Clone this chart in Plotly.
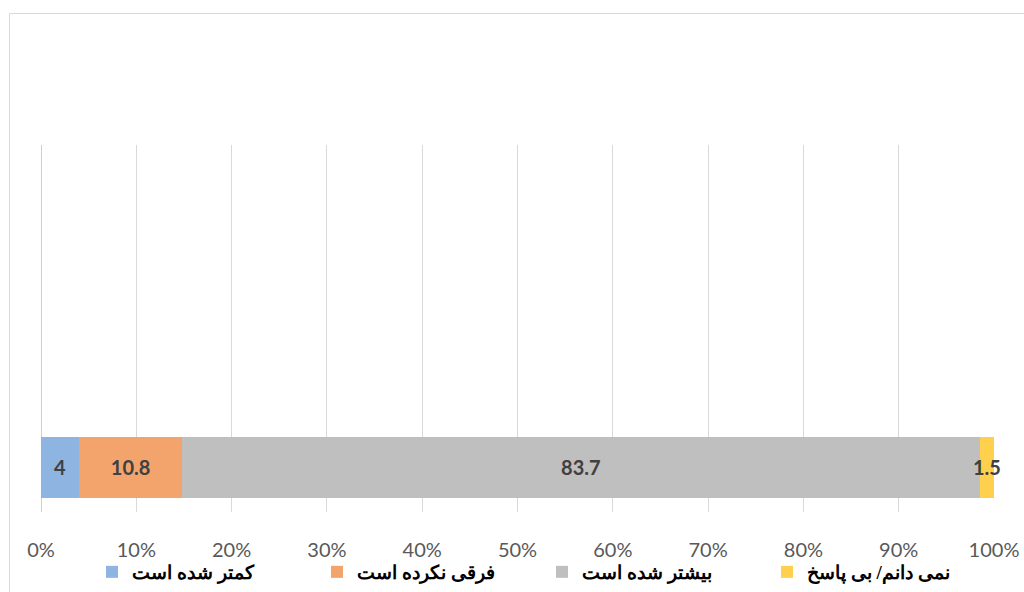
import plotly.graph_objects as go

# Survey answer shares (percent), one stacked 100% bar
categories = ["کمتر شده است", "فرقی نکرده است", "بیشتر شده است", "نمی دانم/ بی پاسخ"]
values = [4, 10.8, 83.7, 1.5]
colors = ["#8EB5E1", "#F2A46C", "#BFBFBF", "#FFD04D"]
tick_vals = [0, 10, 20, 30, 40, 50, 60, 70, 80, 90, 100]
tick_text = ["0%", "10%", "20%", "30%", "40%", "50%", "60%", "70%", "80%", "90%", "100%"]

fig = go.Figure()
for name, v, c in zip(categories, values, colors):
    fig.add_trace(go.Bar(
        y=[0], x=[v], name=name, orientation="h",
        marker=dict(color=c, line=dict(width=0)),
        width=0.6,
        text=[f"{v:g}"], textposition="inside", insidetextanchor="middle",
        textangle=0, constraintext="none", cliponaxis=False,
        textfont=dict(family="Lato, Liberation Sans, sans-serif", size=20, color="#404040", weight="bold"),
    ))

# plot-area pixel geometry used to place the outer frame
L, R, T, B = 41, 30, 145, 80
W, H = 1024 - L - R, 592 - T - B

fig.update_layout(
    width=1024, height=592,
    barmode="stack",
    paper_bgcolor="white", plot_bgcolor="white",
    margin=dict(l=L, r=R, t=T, b=B, pad=0, autoexpand=False),
    showlegend=True,
    legend=dict(
        orientation="h", x=(92 - L) / W, xanchor="left", y=-(572 - 512) / H, yanchor="middle",
        font=dict(family="Times New Roman, Liberation Serif, DejaVu Serif, serif", size=19, color="#000000", weight="bold"),
        entrywidth=180, itemwidth=30, traceorder="normal",
        bgcolor="rgba(0,0,0,0)",
    ),
    xaxis=dict(
        range=[0, 100], tickvals=tick_vals, ticktext=tick_text,
        showgrid=True, gridcolor="#D9D9D9", gridwidth=1,
        zeroline=False, showline=False, ticks="",
        ticklabelstandoff=24,
        tickfont=dict(family="Lato, Liberation Sans, sans-serif", size=20, color="#595959"),
    ),
    yaxis=dict(
        range=[-0.438, 3.172], showticklabels=False, showgrid=False,
        zeroline=False, showline=False, fixedrange=True,
    ),
    shapes=[
        # chart frame
        dict(type="rect", xref="paper", yref="paper",
             x0=(9.5 - L) / W, x1=(1040 - L) / W,
             y0=-(620 - 512) / H, y1=(512 - 13.5) / H,
             line=dict(color="#D9D9D9", width=1), fillcolor="rgba(0,0,0,0)", layer="below"),
        # value axis line at 0%
        dict(type="line", xref="x", yref="paper", x0=0, x1=0, y0=0, y1=1,
             line=dict(color="#BFBFBF", width=1.5), layer="below"),
    ],
)

fig.write_html("out.html")
